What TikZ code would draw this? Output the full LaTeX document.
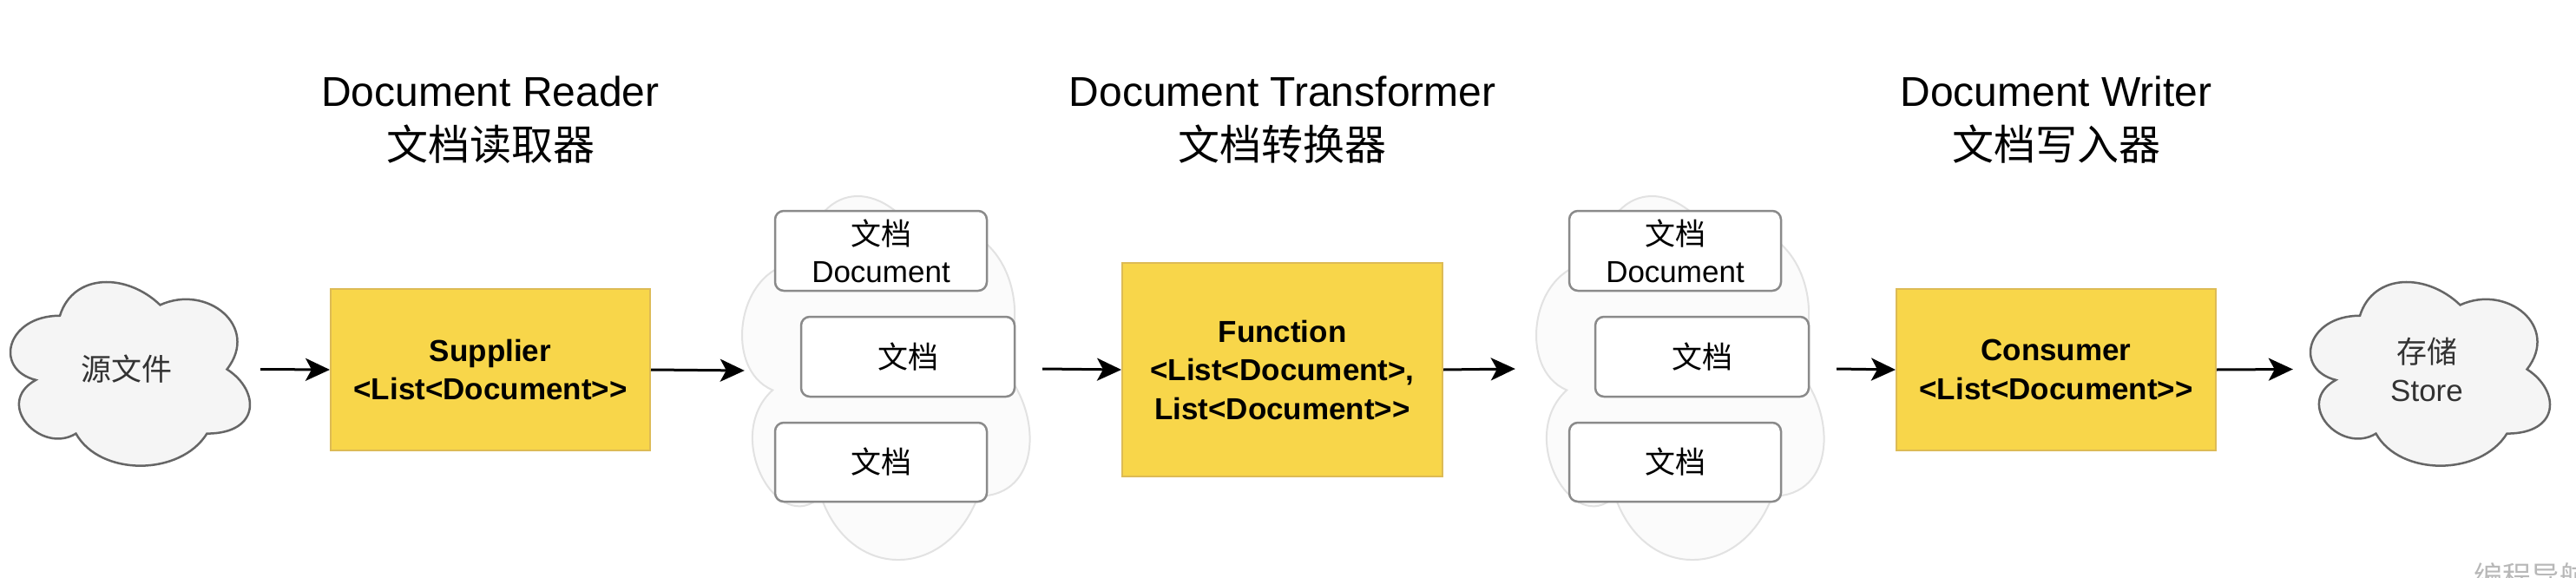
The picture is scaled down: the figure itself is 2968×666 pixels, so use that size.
\documentclass[tikz,border=0pt]{standalone}
\usepackage{fontspec}
\setmainfont{Liberation Sans}
\newfontfamily\cjk{Noto Sans CJK SC}
\usetikzlibrary{arrows.meta}
\definecolor{ylw}{HTML}{F8D64A}
\definecolor{ylwline}{HTML}{DDBB55}
\definecolor{cldfill}{HTML}{F5F5F5}
\definecolor{cldline}{HTML}{666666}
\definecolor{cldtext}{HTML}{333333}
\definecolor{bgfill}{HTML}{FBFBFB}
\definecolor{bgline}{HTML}{E2E2E2}
\definecolor{docline}{HTML}{8A8A8A}
\definecolor{wmark}{HTML}{B8B8B8}
\newcommand\gtgt{>\kern0pt>}
\newcommand\cloudat[5]{%
  \path[#5,shift={(#1,#2)},xscale=#3,yscale=#4]
    (0.25,0.25) .. controls (0.05,0.25) and (0,0.5) .. (0.16,0.55)
    .. controls (0,0.66) and (0.18,0.9) .. (0.31,0.8)
    .. controls (0.4,1) and (0.7,1) .. (0.8,0.8)
    .. controls (1,0.8) and (1,0.6) .. (0.875,0.5)
    .. controls (1,0.3) and (0.8,0.1) .. (0.625,0.2)
    .. controls (0.5,0.05) and (0.3,0.05) .. (0.25,0.25) -- cycle;}
\tikzset{
  ttl/.style={anchor=base, inner sep=0pt, font=\fontsize{48}{58}\selectfont},
  ttlc/.style={anchor=base, inner sep=0pt, font=\cjk\fontsize{48}{58}\selectfont},
  ybox/.style={draw=ylwline, fill=ylw, line width=2pt, align=center, inner sep=0pt,
    font=\fontsize{35}{44.5}\selectfont\bfseries},
  docbox/.style={draw=docline, fill=white, line width=2.5pt, rounded corners=10pt,
    align=center, inner sep=0pt, font=\fontsize{35}{43}\selectfont},
  cloudbox/.style={inner sep=0pt, minimum width=308pt, minimum height=247pt, align=center,
    text=cldtext, font=\fontsize{35}{44}\selectfont},
  grpbox/.style={inner sep=0pt, minimum width=370pt, minimum height=489pt},
  srccloud/.style={draw=cldline, fill=cldfill, line width=2.5pt},
  bgcloud/.style={draw=bgline, fill=bgfill, line width=2pt},
  arr/.style={line width=3pt, -{Stealth[length=28pt,width=26pt,inset=7pt]}}
}
\begin{document}
\begin{tikzpicture}[x=1pt,y=-1pt]
\fill[white] (0,0) rectangle (2968,666);
\useasboundingbox (0,0) rectangle (2968,666);
% titles
\node[ttl]  (t1a) at (565,123) {Document Reader};
\node[ttlc] (t1b) at (565,184) {文档读取器};
\node[ttl]  (t2a) at (1477.5,123) {Document Transformer};
\node[ttlc] (t2b) at (1477.5,184) {文档转换器};
\node[ttl]  (t3a) at (2369,123) {Document Writer};
\node[ttlc] (t3b) at (2369,184) {文档写入器};
% clouds
\cloudat{-8}{302}{308}{247}{srccloud}
\cloudat{2642}{302}{308}{247}{srccloud}
\cloudat{831}{180.5}{370}{489}{bgcloud}
\cloudat{1746}{180.5}{370}{489}{bgcloud}
\node[cloudbox] (src) at (146,425.5) {\cjk 源文件};
\node[cloudbox] (sto) at (2796,425.5) {{\cjk 存储}\\Store};
\node[grpbox] (g1) at (1016,425) {};
\node[grpbox] (g2) at (1931,425) {};
% yellow boxes
\node[ybox, minimum width=368pt, minimum height=186pt] (sup) at (565,426) {Supplier\\<List<Document\gtgt};
\node[ybox, minimum width=369pt, minimum height=246pt] (fun) at (1477.5,426) {Function\\<List<Document>,\\List<Document\gtgt};
\node[ybox, minimum width=368pt, minimum height=186pt] (con) at (2369,426) {Consumer\\<List<Document\gtgt};
% document boxes
\node[docbox, minimum width=244pt, minimum height=92pt] (d1) at (1015,289) {{\cjk 文档}\\Document};
\node[docbox, minimum width=246pt, minimum height=92pt] (d2) at (1046,411) {\cjk 文档};
\node[docbox, minimum width=244pt, minimum height=91pt] (d3) at (1015,532.5) {\cjk 文档};
\node[docbox, minimum width=244pt, minimum height=92pt] (d4) at (1930,289) {{\cjk 文档}\\Document};
\node[docbox, minimum width=246pt, minimum height=92pt] (d5) at (1961,411) {\cjk 文档};
\node[docbox, minimum width=244pt, minimum height=91pt] (d6) at (1930,532.5) {\cjk 文档};
% connectors
\draw[arr] (src.east) -- (sup.west);
\draw[arr] (sup.east) -- ([xshift=27pt,yshift=-2pt]g1.west);
\draw[arr] (g1.east) -- (fun.west);
\draw[arr] (fun.east) -- (g2.west);
\draw[arr] (g2.east) -- (con.west);
\draw[arr] (con.east) -- (sto.west);
% watermark
\node[anchor=base west, inner sep=0pt, text=wmark, font=\cjk\fontsize{33}{33}\selectfont] (wm) at (2850,676) {编程导航};
\end{tikzpicture}
\end{document}
